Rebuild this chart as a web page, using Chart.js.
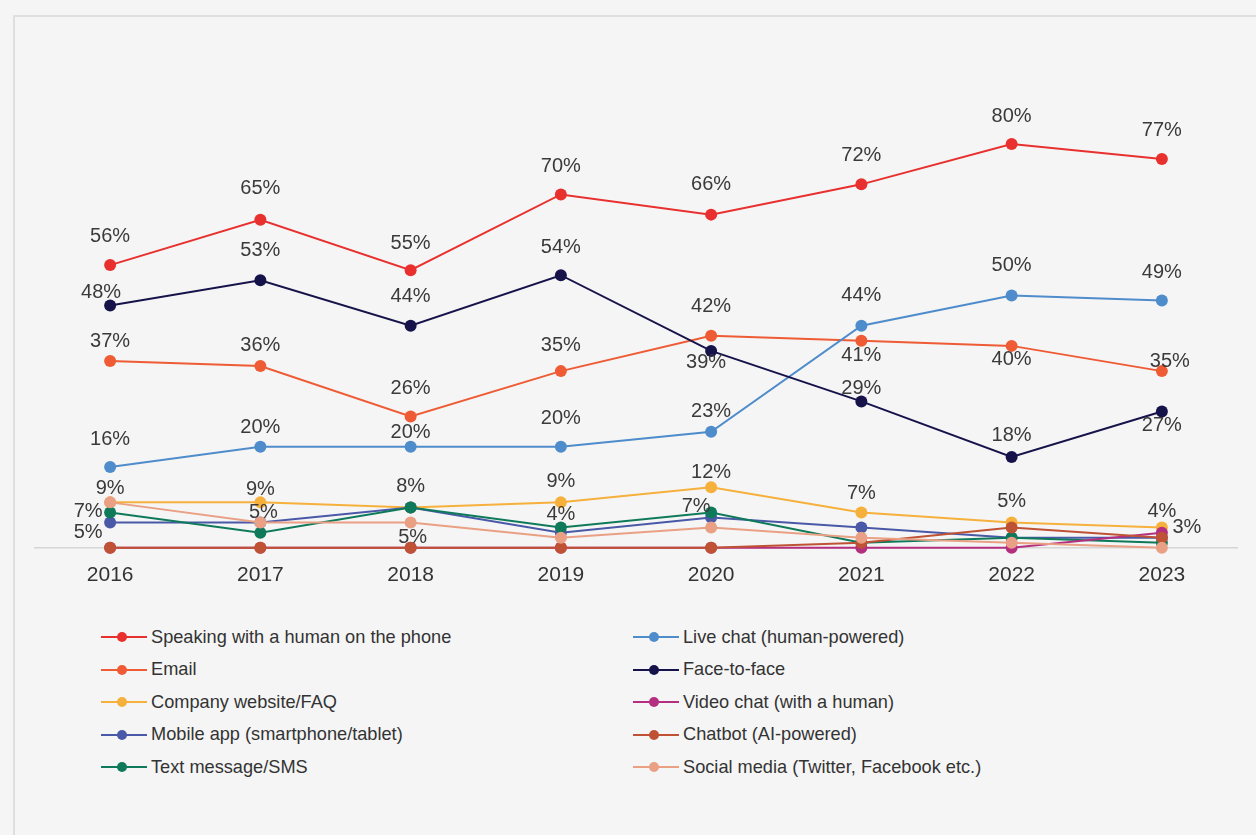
<!DOCTYPE html>
<html lang="en">
<head>
    <meta charset="UTF-8">
    <title>Preferred customer service channels, 2016-2023</title>
    <script src="https://cdn.jsdelivr.net/npm/chart.js"></script>
    <style>
        html, body {
            margin: 0;
            padding: 0;
            background: #f5f5f5;
        }
        body {
            position: relative;
            width: 1256px;
            height: 835px;
            overflow: hidden;
            font-family: "Liberation Sans", Arial, Helvetica, sans-serif;
        }
        /* thin panel edge along the top and left */
        .frame {
            position: absolute;
            left: 13px;
            top: 15px;
            right: -10px;
            bottom: -10px;
            border-top: 2px solid #dfdfdf;
            border-left: 2px solid #dfdfdf;
        }
        #chartBox {
            position: absolute;
            left: 0;
            top: 0;
        }
        #legend {
            position: absolute;
            left: 101px;
            top: 621px;
            display: grid;
            grid-template-columns: 532px 500px;
            grid-template-rows: repeat(5, 32.5px);
            grid-auto-flow: column;
            font-size: 18.2px;
            color: #333;
        }
        #legend .item {
            display: flex;
            align-items: center;
            white-space: nowrap;
        }
        #legend .key {
            position: relative;
            display: inline-block;
            width: 46px;
            height: 2px;
            margin-right: 4px;
        }
        #legend .key i {
            position: absolute;
            left: 16px;
            top: -4px;
            width: 10px;
            height: 10px;
            border-radius: 50%;
        }
    </style>
</head>
<body>
    <div class="frame"></div>
    <canvas id="chartBox" width="1256" height="615"></canvas>
    <div id="legend"></div>

    <script>
        // Survey years
        const years = ['2016', '2017', '2018', '2019', '2020', '2021', '2022', '2023'];

        // Share of respondents (%) per channel
        const phone        = [56, 65, 55, 70, 66, 72, 80, 77];
        const email        = [37, 36, 26, 35, 42, 41, 40, 35];
        const website      = [9, 9, 8, 9, 12, 7, 5, 4];
        const mobileApp    = [5, 5, 8, 3, 6, 4, 2, 2];
        const textMessage  = [7, 3, 8, 4, 7, 1, 2, 1];
        const liveChat     = [16, 20, 20, 20, 23, 44, 50, 49];
        const faceToFace   = [48, 53, 44, 54, 39, 29, 18, 27];
        const videoChat    = [0, 0, 0, 0, 0, 0, 0, 3];
        const chatbot      = [0, 0, 0, 0, 0, 1, 4, 2];
        const socialMedia  = [9, 5, 5, 2, 4, 2, 1, 0];

        // Where each value label sits relative to its point (px), null = no label
        const labelOffsets = {
            phone:       [[0, -29], [0, -31], [0, -27], [0, -28], [0, -30], [0, -29], [0, -27], [0, -29]],
            email:       [[0, -20], [0, -21], [0, -28], [0, -26], [0, -29], [0, 15], [0, 14], [8, -10]],
            website:     [[0, -14], [0, -13], [0, -21], [0, -21], [0, -15], [0, -19], [0, -21], [0, -16]],
            mobileApp:   [[-22, 10], null, null, null, null, null, null, null],
            textMessage: [[-22, -1], null, null, [0, -13], [-15, -6], null, null, null],
            liveChat:    [[0, -28], [0, -19], [0, -14], [0, -28], [0, -20], [0, -30], [0, -30], [0, -28]],
            faceToFace:  [[-9, -13], [0, -30], [0, -29], [0, -28], [-5, 12], [0, -13], [0, -21], [0, 14]],
            videoChat:   [null, null, null, null, null, null, null, [25, -5]],
            chatbot:     null,
            socialMedia: [null, [3, -10], [2, 15], null, null, null, null, null]
        };

        // Legend order: left column first, then right column
        const series = [
            { key: 'phone',       label: 'Speaking with a human on the phone',  data: phone,       color: '#e8302e' },
            { key: 'email',       label: 'Email',                               data: email,       color: '#ee5b34' },
            { key: 'website',     label: 'Company website/FAQ',                 data: website,     color: '#f6b03c' },
            { key: 'mobileApp',   label: 'Mobile app (smartphone/tablet)',      data: mobileApp,   color: '#4a58a8' },
            { key: 'textMessage', label: 'Text message/SMS',                    data: textMessage, color: '#0f7a5a' },
            { key: 'liveChat',    label: 'Live chat (human-powered)',           data: liveChat,    color: '#4f8ccb' },
            { key: 'faceToFace',  label: 'Face-to-face',                        data: faceToFace,  color: '#15134a' },
            { key: 'videoChat',   label: 'Video chat (with a human)',           data: videoChat,   color: '#b52f80' },
            { key: 'chatbot',     label: 'Chatbot (AI-powered)',                data: chatbot,     color: '#bf5234' },
            { key: 'socialMedia', label: 'Social media (Twitter, Facebook etc.)', data: socialMedia, color: '#e9a084' }
        ];

        const FONT = '"Liberation Sans", Arial, Helvetica, sans-serif';

        const datasets = series.map((s, i) => ({
            label: s.label,
            data: s.data,
            borderColor: s.color,
            backgroundColor: s.color,
            borderWidth: 2,
            pointRadius: 6,
            pointBorderWidth: 0,
            pointHoverRadius: 6,
            tension: 0,
            fill: false,
            clip: false,
            // later series are painted over earlier ones
            order: series.length - i,
            labelOffsets: labelOffsets[s.key]
        }));

        // Draws "NN%" next to the points that carry a label
        const valueLabels = {
            id: 'valueLabels',
            afterDatasetsDraw(chart) {
                const ctx = chart.ctx;
                ctx.save();
                ctx.font = '20px ' + FONT;
                ctx.fillStyle = '#3a3a3a';
                ctx.textAlign = 'center';
                ctx.textBaseline = 'middle';
                chart.data.datasets.forEach((ds, i) => {
                    if (!ds.labelOffsets) return;
                    const meta = chart.getDatasetMeta(i);
                    meta.data.forEach((pt, j) => {
                        const off = ds.labelOffsets[j];
                        if (!off) return;
                        ctx.fillText(ds.data[j] + '%', pt.x + off[0], pt.y + off[1]);
                    });
                });
                ctx.restore();
            }
        };

        new Chart(document.getElementById('chartBox'), {
            type: 'line',
            data: { labels: years, datasets: datasets },
            options: {
                responsive: false,
                animation: false,
                layout: { padding: { left: 35, right: 19, top: 43, bottom: 12 } },
                plugins: {
                    legend: { display: false },
                    tooltip: { enabled: false }
                },
                scales: {
                    x: {
                        offset: true,
                        grid: { display: false, drawTicks: false },
                        border: { display: true, color: '#d6d6d6', width: 1.5 },
                        ticks: {
                            padding: 15,
                            color: '#333',
                            font: { family: FONT, size: 21 }
                        }
                    },
                    y: {
                        display: false,
                        min: 0,
                        max: 100
                    }
                }
            },
            plugins: [valueLabels]
        });

        // Two-column legend under the chart
        const legend = document.getElementById('legend');
        series.forEach(s => {
            const item = document.createElement('div');
            item.className = 'item';
            item.innerHTML = '<span class="key" style="background:' + s.color + '"><i style="background:' + s.color + '"></i></span>' +
                '<span>' + s.label + '</span>';
            legend.appendChild(item);
        });
    </script>
</body>
</html>
